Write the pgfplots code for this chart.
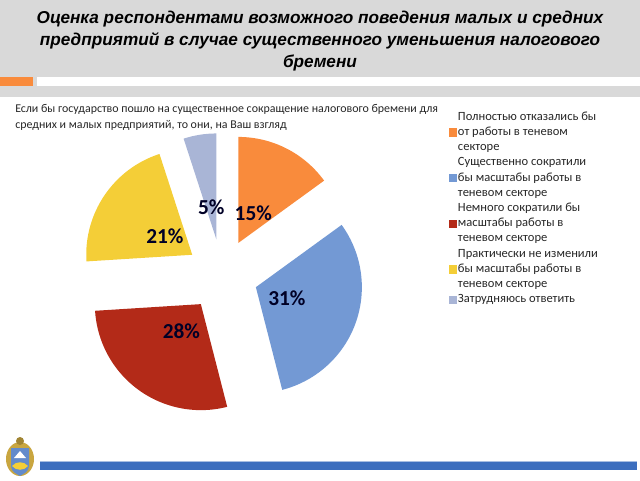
\documentclass[border=0pt]{standalone}
\usepackage{fontspec}
\setmainfont{Carlito}
\newfontfamily\titlefont{Liberation Sans}
\usepackage{pgfplots}
\usepackage{pgfplotstable}
\pgfplotsset{compat=1.18}

\definecolor{band}{HTML}{D9D9D9}
\definecolor{sOrange}{HTML}{F98B3C}
\definecolor{sBlue}{HTML}{7399D4}
\definecolor{sRed}{HTML}{B32A18}
\definecolor{sYellow}{HTML}{F4CE37}
\definecolor{sGrey}{HTML}{A9B5D6}
\definecolor{barBlue}{HTML}{3C6EBE}
\definecolor{gold}{HTML}{C9A640}

% shares in percent, clockwise from 12 o'clock
\pgfplotstableread{
share col
15 sOrange
31 sBlue
28 sRed
21 sYellow
5 sGrey
}\piedata

\begin{document}
\begin{tikzpicture}[x=0.75pt,y=-0.75pt]
\useasboundingbox (0,0) rectangle (640,480);
% title band
\fill[band] (0,0) rectangle (640,97);
\fill[sOrange] (0,77) rectangle (33,86);
\fill[white] (37,77) rectangle (640,86);
\node[font=\titlefont\bfseries\itshape\fontsize{12.9}{16.3}\selectfont, align=center, inner sep=0pt]
  at (320,41) {Оценка респондентами возможного поведения малых и средних\\
  предприятий в случае существенного уменьшения налогового\\ бремени};
\node[anchor=north west, align=left, inner sep=0pt, text=black!85,
  font=\fontsize{8.95}{12}\selectfont] at (15,104)
  {Если бы государство пошло на существенное сокращение налогового бремени для\\
   средних и малых предприятий, то они, на Ваш взгляд};

\begin{axis}[
    at={(166.5pt,-206.25pt)}, anchor=origin,
    x=0.75pt, y=0.75pt,
    xmin=-200, xmax=400, ymin=-200, ymax=200,
    hide axis, clip=false,
    legend cell align=left,
    legend style={draw=none, fill=none, at={(0.704,0.915)}, anchor=north west,
      font=\fontsize{9.4}{11.3}\selectfont, text=black!85,
      nodes={align=left, inner ysep=0pt, inner xsep=1pt},
      row sep=3.9pt, column sep=0pt},
]
\pgfplotsextra{
  \gdef\cum{0}
  \pgfplotstablegetrowsof{\piedata}
  \pgfmathtruncatemacro\lastrow{\pgfplotsretval-1}
  \foreach \i in {0,...,\lastrow}{
    \pgfplotstablegetelem{\i}{share}\of\piedata \let\val\pgfplotsretval
    \pgfplotstablegetelem{\i}{col}\of\piedata \let\slicecol\pgfplotsretval
    \pgfmathsetmacro\aS{90-3.6*\cum}
    \pgfmathsetmacro\aE{90-3.6*(\cum+\val)}
    \pgfmathsetmacro\aM{(\aS+\aE)/2}
    \pgfmathsetmacro\sx{36*cos(\aM)}
    \pgfmathsetmacro\sy{36*sin(\aM)}
    \pgfmathsetmacro\lx{69*cos(\aM)}
    \pgfmathsetmacro\ly{69*sin(\aM)}
    \fill[\slicecol] (axis cs:\sx,\sy) -- ++(\aS:79.5pt)
      arc[start angle=\aS, end angle=\aE, radius=79.5pt] -- cycle;
    \node[font=\bfseries\fontsize{16}{18}\selectfont, text=black!85!blue]
      at (axis cs:\lx,\ly) {\val\%};
    \pgfmathsetmacro\newcum{\cum+\val}
    \global\let\cum\newcum
  }
}
\addlegendimage{legend image code/.code={\fill[sOrange] (0pt,-2.8pt) rectangle (5.6pt,2.8pt);}}
\addlegendentry{Полностью отказались бы\\от работы в теневом\\секторе}
\addlegendimage{legend image code/.code={\fill[sBlue] (0pt,-2.8pt) rectangle (5.6pt,2.8pt);}}
\addlegendentry{Существенно сократили\\бы масштабы работы в\\теневом секторе}
\addlegendimage{legend image code/.code={\fill[sRed] (0pt,-2.8pt) rectangle (5.6pt,2.8pt);}}
\addlegendentry{Немного сократили бы\\масштабы работы в\\теневом секторе}
\addlegendimage{legend image code/.code={\fill[sYellow] (0pt,-2.8pt) rectangle (5.6pt,2.8pt);}}
\addlegendentry{Практически не изменили\\бы масштабы работы в\\теневом секторе}
\addlegendimage{legend image code/.code={\fill[sGrey] (0pt,-2.8pt) rectangle (5.6pt,2.8pt);}}
\addlegendentry{Затрудняюсь ответить}
\end{axis}

% bottom bar and emblem
\fill[barBlue] (40,461) rectangle (637,470);
\draw[barBlue!45!white, line width=0.6pt] (40,461.5) -- (637,461.5);
\fill[gold] (20,459) ellipse (14 and 17);
\fill[gold!80!black] (20,441) circle (4);
\fill[barBlue!80!white] (11,448) -- (29,448) -- (29,466) .. controls (29,472) and (23,474) .. (20,476)
  .. controls (17,474) and (11,472) .. (11,466) -- cycle;
\fill[white] (14,458) -- (20,451) -- (26,458) -- cycle;
\fill[sYellow] (12,466) .. controls (16,461) and (24,461) .. (28,466) .. controls (24,471) and (16,471) .. (12,466);
\end{tikzpicture}
\end{document}
